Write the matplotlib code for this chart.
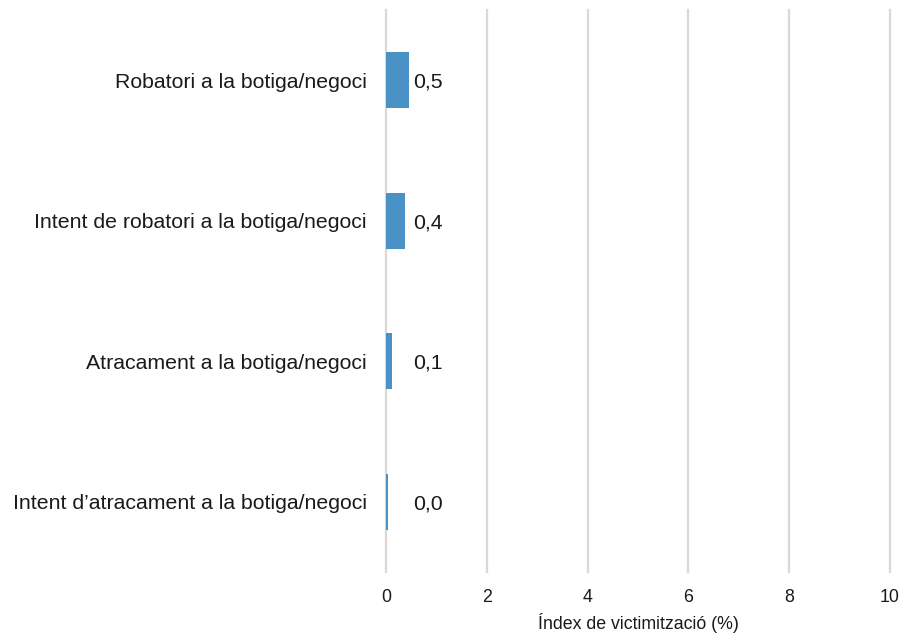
import matplotlib as mpl
mpl.use('Agg')
import matplotlib.pyplot as plt

# data
categories = ['Robatori a la botiga/negoci',
              'Intent de robatori a la botiga/negoci',
              'Atracament a la botiga/negoci',
              'Intent d\u2019atracament a la botiga/negoci']
values = [0.46, 0.37, 0.11, 0.03]
labels = ['0,5', '0,4', '0,1', '0,0']
xticks = [0, 2, 4, 6, 8, 10]

plt.rcParams['font.family'] = ['Liberation Sans', 'DejaVu Sans']

fig = plt.figure(figsize=(9.05, 6.35), dpi=100)
ax = fig.add_axes([386 / 905, 1 - 572 / 635, 504 / 905, 562 / 635])

pos = list(range(len(categories)))
ax.barh(pos, values, height=0.4, color='#4a92c5', zorder=3)
for p, lab in zip(pos, labels):
    ax.text(0.54, p + 0.015, lab, va='center', ha='left', fontsize=15.3, color='#1a1a1a')

ax.set_xlim(0, 10)
ax.set_ylim(3.5, -0.5)
ax.set_xticks(xticks)
ax.set_yticks(pos)
ax.set_yticklabels(categories, fontsize=15.3, color='#1a1a1a')
ax.tick_params(axis='y', length=0, pad=14)
ax.tick_params(axis='x', length=0, pad=12, labelsize=12.8, labelcolor='#1a1a1a')
ax.grid(axis='x', color='#d9d9d9', linewidth=1.6, zorder=0)
for gl in ax.get_xgridlines():
    gl.set_clip_on(False)
for s in ax.spines.values():
    s.set_visible(False)
ax.set_xlabel('\u00cdndex de victimitzaci\u00f3 (%)', fontsize=12.8, color='#1a1a1a', labelpad=5)

plt.savefig('out.png', dpi=100)
